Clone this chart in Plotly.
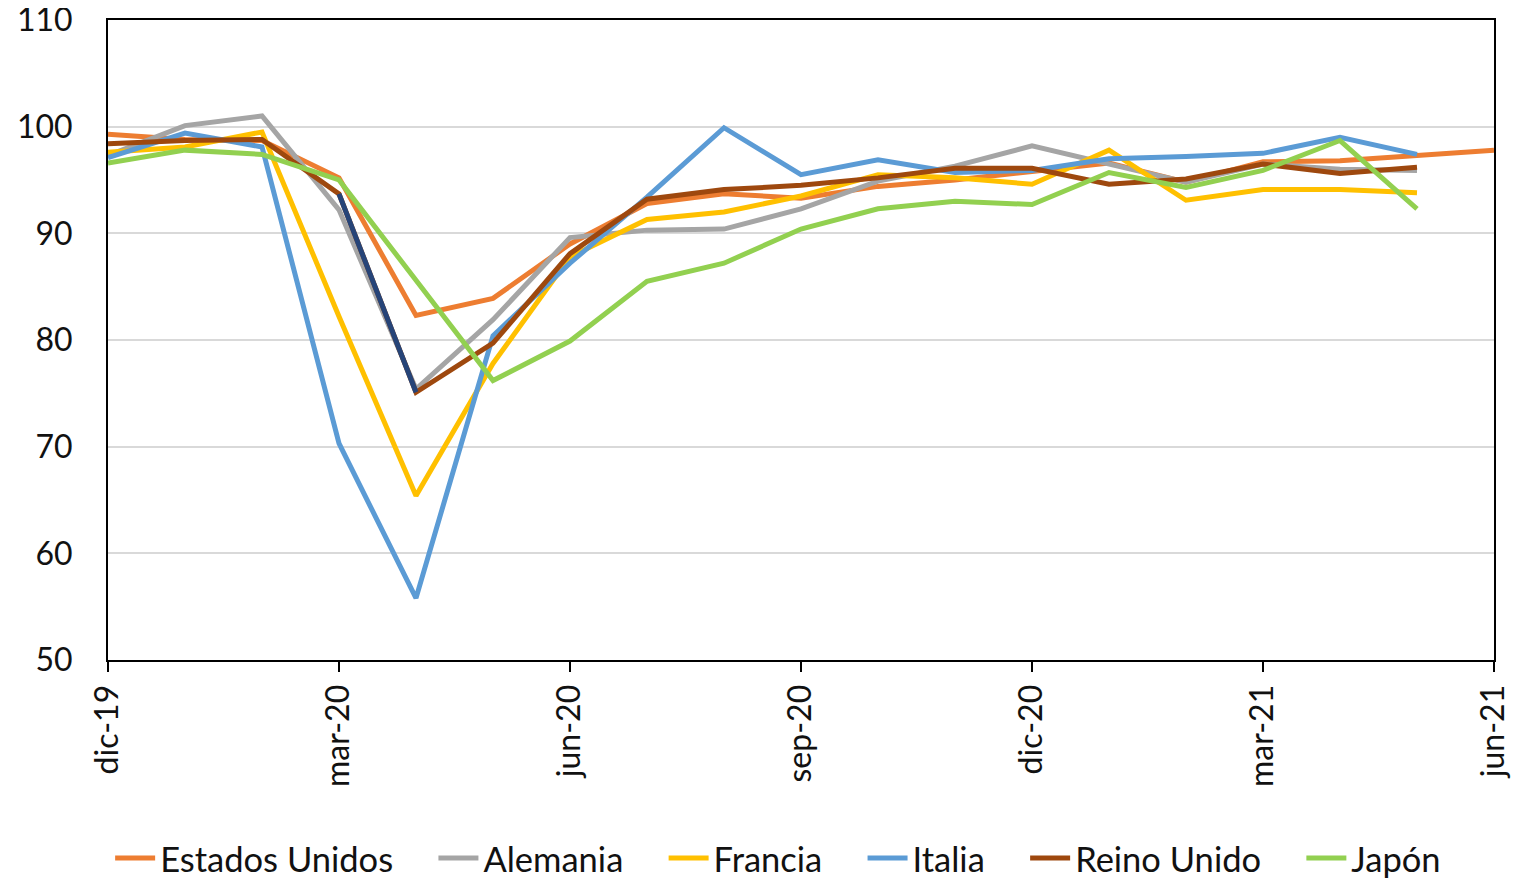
import plotly.graph_objects as go

months = ["dic-19", "ene-20", "feb-20", "mar-20", "abr-20", "may-20", "jun-20",
          "jul-20", "ago-20", "sep-20", "oct-20", "nov-20", "dic-20", "ene-21",
          "feb-21", "mar-21", "abr-21", "may-21", "jun-21"]
tick_labels = ["dic-19", "mar-20", "jun-20", "sep-20", "dic-20", "mar-21", "jun-21"]
y_ticks = [50, 60, 70, 80, 90, 100, 110]

estados_unidos = [99.3, 98.8, 98.7, 95.2, 82.3, 83.9, 89.0, 92.8, 93.7, 93.3,
                  94.4, 95.0, 95.8, 96.6, 94.8, 96.7, 96.8, 97.3, 97.8]
alemania = [97.3, 100.1, 101.0, 92.2, 75.4, 81.9, 89.6, 90.3, 90.4, 92.3,
            94.9, 96.3, 98.2, 96.5, 94.8, 96.5, 96.0, 95.9]
francia = [97.6, 98.1, 99.5, 82.2, 65.4, 77.8, 87.8, 91.3, 92.0, 93.5,
           95.5, 95.2, 94.6, 97.8, 93.1, 94.1, 94.1, 93.8]
italia = [97.1, 99.4, 98.1, 70.3, 55.8, 80.4, 87.2, 93.4, 99.9, 95.5,
          96.9, 95.7, 95.9, 97.0, 97.2, 97.5, 99.0, 97.4]
reino_unido = [98.4, 98.7, 98.8, 93.7, 75.1, 79.7, 88.1, 93.2, 94.1, 94.5,
               95.2, 96.1, 96.1, 94.6, 95.1, 96.5, 95.6, 96.2]
japon = [96.6, 97.8, 97.4, 95.0, 85.6, 76.2, 79.9, 85.5, 87.2, 90.4,
         92.3, 93.0, 92.7, 95.7, 94.3, 95.9, 98.7, 92.3]

series = [
    ("Estados Unidos", estados_unidos, "#ED7D31"),
    ("Alemania", alemania, "#A5A5A5"),
    ("Francia", francia, "#FFC000"),
    ("Italia", italia, "#5B9BD5"),
    ("Reino Unido", reino_unido, "#9E480E"),
    ("Japón", japon, "#92D050"),
]

FONT = "Lato, 'Open Sans', sans-serif"
TXT = "#111111"
x_all = list(range(len(months)))
pad = "\u00a0" * 4  # extra room after each legend entry, like Excel

fig = go.Figure()
for i, (name, vals, color) in enumerate(series):
    label = name if i == len(series) - 1 else name + pad
    fig.add_trace(go.Scatter(
        x=x_all[:len(vals)], y=vals, name=label, mode="lines",
        line=dict(color=color, width=5),
    ))
    if name == "Reino Unido":
        # segment mar-20 -> abr-20 painted dark blue in the original
        fig.add_trace(go.Scatter(
            x=x_all[3:5], y=vals[3:5], mode="lines", showlegend=False,
            line=dict(color="#264478", width=5), hoverinfo="skip",
        ))

fig.update_xaxes(
    range=[0, 18],
    tickvals=[months.index(t) for t in tick_labels],
    ticktext=tick_labels,
    tickangle=-90,
    ticks="outside", ticklen=10, tickwidth=2, tickcolor="black",
    showgrid=False, zeroline=False, automargin=False,
    showline=True, linecolor="black", linewidth=2, mirror=True,
    tickfont=dict(family=FONT, size=32, color=TXT),
    ticklabeloverflow="allow",
)
fig.update_yaxes(
    range=[50, 110], tickvals=y_ticks,
    showgrid=True, gridcolor="#D9D9D9", gridwidth=2,
    zeroline=False, automargin=False,
    showline=True, linecolor="black", linewidth=2, mirror=True,
    ticks="", ticklabelstandoff=27,
    tickfont=dict(family=FONT, size=32, color=TXT),
    ticklabeloverflow="allow",
)

fig.update_layout(
    width=1519, height=881,
    margin=dict(l=100, r=33, t=12, b=229, autoexpand=False),
    plot_bgcolor="white", paper_bgcolor="white",
    font=dict(family=FONT, size=32, color=TXT),
    showlegend=True,
    legend=dict(
        orientation="h",
        xref="container", yref="container",
        x=0.507, xanchor="center",
        y=0.035, yanchor="middle",
        font=dict(family=FONT, size=34.5, color=TXT),
        itemwidth=40,
        tracegroupgap=0,
    ),
)

fig.write_html("out.html")
